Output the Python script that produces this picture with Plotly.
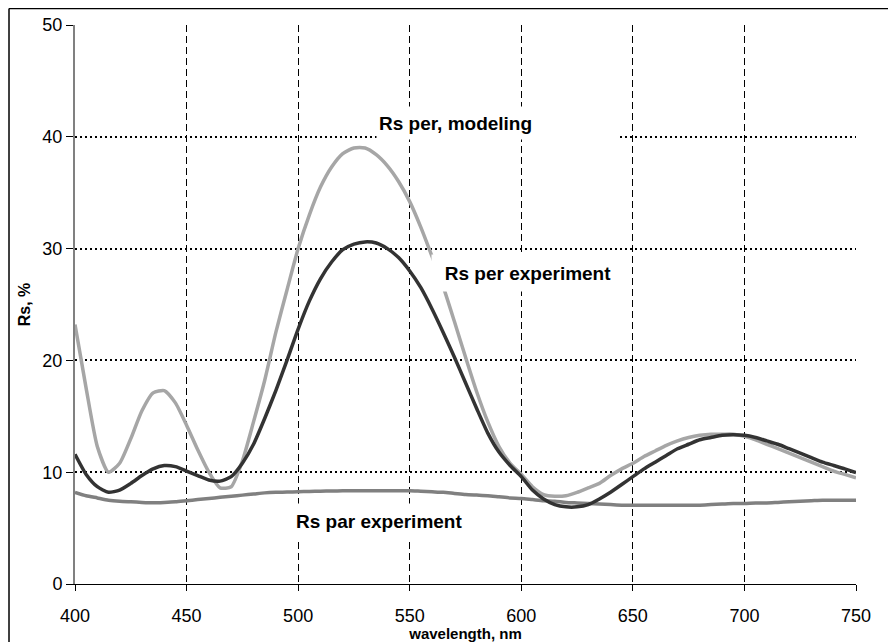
import plotly.graph_objects as go

wavelength = list(range(400, 755, 5))

rs_per_modeling = [
    23.2, 17.5, 12.3, 10.0, 10.8, 13.0, 15.5, 17.1, 17.3, 16.2,
    14.2, 12.0, 10.0, 8.6, 8.7, 11.0, 14.5, 18.2, 22.5, 26.3,
    30.0, 33.0, 35.5, 37.3, 38.5, 39.0, 39.0, 38.4, 37.4, 36.0,
    34.2, 31.9, 29.3, 26.6, 23.5, 20.3, 17.2, 14.5, 12.3, 10.8,
    9.8, 8.7, 8.0, 7.85, 7.9, 8.2, 8.6, 9.0, 9.7, 10.3,
    10.8, 11.4, 11.9, 12.4, 12.8, 13.1, 13.3, 13.4, 13.4, 13.4,
    13.2, 12.9, 12.5, 12.1, 11.7, 11.3, 10.9, 10.5, 10.1, 9.8,
    9.5,
]

rs_per_experiment = [
    11.6, 9.8, 8.7, 8.2, 8.4, 9.0, 9.7, 10.3, 10.6, 10.5,
    10.1, 9.7, 9.3, 9.2, 9.6, 10.8, 12.5, 14.8, 17.3, 20.0,
    22.8, 25.3, 27.3, 28.8, 29.9, 30.4, 30.6, 30.5, 30.0, 29.2,
    28.0, 26.5, 24.6, 22.5, 20.3, 18.0, 15.7, 13.5, 11.8, 10.6,
    9.6, 8.4, 7.6, 7.1, 6.9, 6.9, 7.1, 7.6, 8.2, 8.9,
    9.6, 10.3, 10.9, 11.5, 12.1, 12.5, 12.9, 13.1, 13.3, 13.35,
    13.3, 13.1, 12.8, 12.5, 12.1, 11.7, 11.3, 10.9, 10.6, 10.3,
    9.96,
]

rs_par_experiment = [
    8.2, 7.9, 7.7, 7.5, 7.4, 7.35, 7.3, 7.27, 7.3, 7.35,
    7.45, 7.55, 7.65, 7.75, 7.85, 7.95, 8.05, 8.15, 8.2, 8.22,
    8.25, 8.28, 8.3, 8.32, 8.33, 8.35, 8.35, 8.35, 8.35, 8.35,
    8.35, 8.3, 8.25, 8.2, 8.1, 8.0, 7.95, 7.9, 7.8, 7.7,
    7.65, 7.55, 7.45, 7.4, 7.3, 7.25, 7.2, 7.15, 7.1, 7.05,
    7.05, 7.05, 7.05, 7.05, 7.05, 7.05, 7.05, 7.1, 7.15, 7.2,
    7.2, 7.25, 7.25, 7.3, 7.35, 7.4, 7.45, 7.5, 7.5, 7.5,
    7.5,
]

x_ticks = [400, 450, 500, 550, 600, 650, 700, 750]
y_ticks = [0, 10, 20, 30, 40, 50]

FONT = "Arial, Liberation Sans, sans-serif"

fig = go.Figure()
fig.add_trace(go.Scatter(x=wavelength, y=rs_par_experiment, mode="lines",
                         line=dict(color="#808080", width=3.5, shape="spline", smoothing=0.6),
                         name="Rs par experiment"))
fig.add_trace(go.Scatter(x=wavelength, y=rs_per_modeling, mode="lines",
                         line=dict(color="#a6a6a6", width=3.5, shape="spline", smoothing=0.6),
                         name="Rs per, modeling"))
fig.add_trace(go.Scatter(x=wavelength, y=rs_per_experiment, mode="lines",
                         line=dict(color="#333333", width=3.5, shape="spline", smoothing=0.6),
                         name="Rs per experiment"))

ann_font = dict(family=FONT, size=19, color="#000000")
fig.add_annotation(x=589.6, y=41.2, xref="x", yref="y", text="<b>Rs per, modeling</b>",
                   showarrow=False, bgcolor="white", width=238, height=28, align="left",
                   borderpad=2, font=ann_font)
fig.add_annotation(x=603.0, y=27.8, xref="x", yref="y", text="<b>Rs per experiment</b>",
                   showarrow=False, bgcolor="white", width=188, height=32,
                   borderpad=2, font=ann_font)
fig.add_annotation(x=540.5, y=5.68, xref="x", yref="y", text="<b>Rs par experiment</b>",
                   showarrow=False, bgcolor="white", width=186, height=30, align="left",
                   borderpad=2, font=ann_font)

# outer frame (left and top edges of the chart area)
fig.add_shape(type="line", xref="paper", yref="paper", x0=-0.0845, x1=1.06, y0=1.0295, y1=1.0295,
              line=dict(color="black", width=1.5))
fig.add_shape(type="line", xref="paper", yref="paper", x0=-0.0845, x1=-0.0845, y0=-0.12, y1=1.0295,
              line=dict(color="black", width=1.5))

fig.update_xaxes(range=[400, 750], tickvals=x_ticks, ticktext=[str(v) for v in x_ticks],
                 showgrid=True, gridcolor="black", gridwidth=1, griddash="7px,4px",
                 showline=True, linecolor="black", linewidth=1,
                 ticks="outside", ticklen=6, tickcolor="black", ticklabelstandoff=9,
                 tickfont=dict(family=FONT, size=18, color="black"),
                 title=dict(text="<b>wavelength, nm</b>", font=dict(family=FONT, size=15, color="black"),
                            standoff=5),
                 zeroline=False)
fig.update_yaxes(range=[0, 50], tickvals=y_ticks, ticktext=[str(v) for v in y_ticks],
                 showgrid=True, gridcolor="black", gridwidth=2, griddash="2px,3px",
                 showline=True, linecolor="#808080", linewidth=2,
                 ticks="outside", ticklen=7, tickcolor="black",
                 tickfont=dict(family=FONT, size=18, color="black"),
                 title=dict(text="<b>Rs, %</b>", font=dict(family=FONT, size=16, color="black"),
                            standoff=8),
                 zeroline=False)

# page body has an 8px margin, so the figure sits at (8, 8)
fig.update_layout(width=888, height=634,
                  margin=dict(l=67, r=40, t=17, b=58, autoexpand=False),
                  paper_bgcolor="white", plot_bgcolor="white",
                  showlegend=False)

fig.write_html("out.html")
